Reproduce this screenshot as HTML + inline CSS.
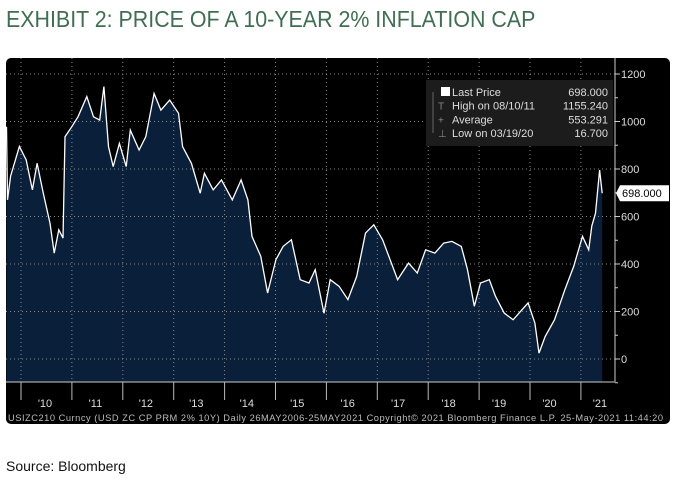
<!DOCTYPE html>
<html><head><meta charset="utf-8"><style>
body{margin:0;background:#fff;width:674px;height:481px;overflow:hidden;font-family:"Liberation Sans",sans-serif;}
#title{position:absolute;left:6px;top:6px;font-size:23px;color:#3f6e52;font-weight:300;white-space:nowrap;transform:scaleX(0.93);transform-origin:0 0;}
#src{position:absolute;left:6px;top:458px;font-size:14px;color:#111;}
</style></head><body>
<div id="title">EXHIBIT 2: PRICE OF A 10-YEAR 2% INFLATION CAP</div>
<svg id="chart" width="674" height="481" style="position:absolute;left:0;top:0"></svg>
<div id="src">Source: Bloomberg</div>
<script>
const years=["'10","'11","'12","'13","'14","'15","'16","'17","'18","'19","'20","'21"];
const yTicks=[0,200,400,600,800,1000,1200];
const dates=[2009.72,2009.74,2009.8,2009.97,2010.1,2010.22,2010.31,2010.43,2010.56,2010.64,2010.73,2010.81,2010.85,2010.98,2011.1,2011.27,2011.4,2011.52,2011.6,2011.69,2011.78,2011.9,2012.03,2012.11,2012.28,2012.41,2012.57,2012.7,2012.87,2013.04,2013.12,2013.29,2013.46,2013.54,2013.71,2013.87,2014.08,2014.25,2014.38,2014.46,2014.63,2014.76,2014.92,2015.06,2015.22,2015.39,2015.56,2015.68,2015.85,2015.97,2016.14,2016.31,2016.48,2016.65,2016.81,2016.98,2017.15,2017.27,2017.48,2017.65,2017.81,2017.99,2018.16,2018.32,2018.5,2018.62,2018.75,2018.87,2019.04,2019.16,2019.33,2019.5,2019.67,2019.79,2019.92,2020.0,2020.12,2020.3,2020.5,2020.67,2020.84,2020.96,2021.02,2021.09,2021.17,2021.22];
const values=[978,670,770,895,838,712,824,698,572,446,544,509,936,978,1020,1105,1020,1006,1147,894,810,908,810,964,880,936,1118,1048,1090,1035,894,824,698,782,712,754,670,754,670,516,432,278,418,474,502,334,320,376,193,334,306,250,348,530,565,502,404,334,404,362,460,446,488,495,474,376,222,320,334,264,193,165,207,236,151,25,95,165,292,390,516,460,560,614,796,698];
const lastPrice=698;
const NS="http://www.w3.org/2000/svg";
const svg=document.getElementById('chart');
function mk(t,a,p){const e=document.createElementNS(NS,t);for(const k in a)e.setAttribute(k,a[k]);(p||svg).appendChild(e);return e;}
const X0=21,PX=50.9,DPX=51.8,L=6,R=615,T=58,B=382;
const xs=d=>X0+(d-2010)*DPX;
const ys=v=>359-v*(285/1200);
const bg=mk('rect',{x:6,y:58,width:664,height:366,rx:5,fill:'#000'});


let d=`M${xs(dates[0])},${B}`;
dates.forEach((t,i)=>{d+=` L${xs(t).toFixed(1)},${ys(values[i]).toFixed(1)}`;});
d+=` L${xs(dates[dates.length-1]).toFixed(1)},${B} Z`;
const area=mk('path',{d:d,fill:'#0a1f3a'});


yTicks.forEach(v=>{const g=mk('line',{x1:L,x2:R,y1:ys(v),y2:ys(v),stroke:'#888','stroke-dasharray':'1,3','stroke-width':1});

});
years.forEach((y,i)=>{const x=X0+i*PX;const g=mk('line',{x1:x,x2:x,y1:T,y2:B,stroke:'#888','stroke-dasharray':'1,3'});

});
let ld='';dates.forEach((t,i)=>{ld+=(i?' L':'M')+xs(t).toFixed(1)+','+ys(values[i]).toFixed(1);});
const line=mk('path',{d:ld,fill:'none',stroke:'#fff','stroke-width':1.3});


mk('line',{x1:R,x2:R,y1:T,y2:B,stroke:'#ccc'});
mk('line',{x1:L,x2:R,y1:B,y2:B,stroke:'#ccc'});
for(let v=-100;v<=1200;v+=100){mk('line',{x1:R,x2:R+(v%200?3:5),y1:ys(v),y2:ys(v),stroke:'#ccc'});}
yTicks.forEach(v=>{const t=mk('text',{x:R+6,y:ys(v)+4,fill:'#ddd','font-size':11});t.textContent=v;

});
years.forEach((y,i)=>{const x=X0+i*PX;mk('line',{x1:x,x2:x,y1:B,y2:400,stroke:'#bbb'});
const t=mk('text',{x:x+24-i*0.45,y:407,fill:'#ddd','font-size':11,'text-anchor':'middle'});t.textContent=y;

});
const f=mk('text',{x:8,y:421,fill:'#bbb','font-size':9.3,textLength:655});f.textContent='USIZC210 Curncy (USD ZC CP PRM 2% 10Y)  Daily 26MAY2006-25MAY2021 Copyright© 2021 Bloomberg Finance L.P. 25-May-2021 11:44:20';


const lg=mk('g',{});


mk('path',{d:`M${R+1},${ys(lastPrice)} L${R+5},${ys(lastPrice)-8} H669 V${ys(lastPrice)+8} H${R+5} Z`,fill:'#fff'},lg);
const lt=mk('text',{x:R+7,y:ys(lastPrice)+4,fill:'#000','font-size':11},lg);lt.textContent=lastPrice.toFixed(3);
const leg=mk('g',{});


mk('rect',{x:426,y:80,width:187,height:66,fill:'#1c1c1c'},leg);
mk('rect',{x:441,y:87,width:9,height:9,fill:'#fff'},leg);
mk('line',{x1:433,x2:433,y1:92,y2:133,stroke:'#666'},leg);
const rows=[['Last Price','698.000'],['High on 08/10/11','1155.240'],['Average','553.291'],['Low on 03/19/20','16.700']];
const icons=['','T','+','⊥'];
rows.forEach((r,i)=>{const y=96+i*13.7;
if(i){const ic=mk('text',{x:438,y:y,fill:'#888','font-size':10},leg);ic.textContent=icons[i];}
const a=mk('text',{x:452,y:y,fill:'#ddd','font-size':11},leg);a.textContent=r[0];


const b=mk('text',{x:608,y:y,fill:'#ddd','font-size':11,'text-anchor':'end'},leg);b.textContent=r[1];});
</script>
</body></html>
